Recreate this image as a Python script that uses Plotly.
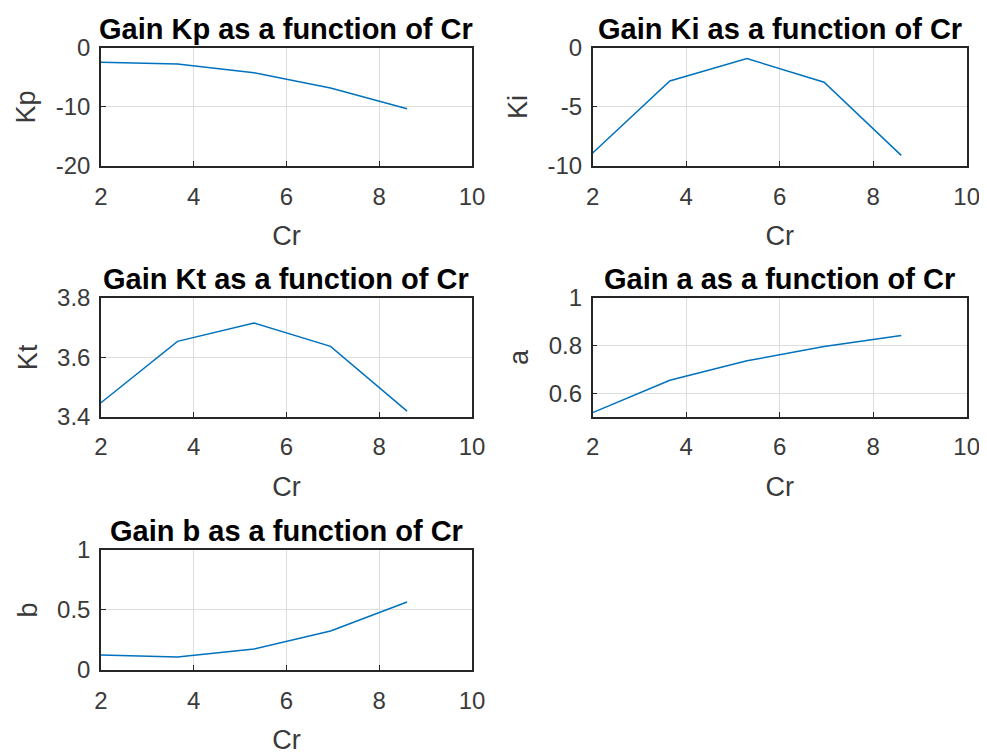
import plotly.graph_objs as go
from plotly.subplots import make_subplots

# data
cr = [2, 3.65, 5.3, 6.95, 8.6]
kp = [-2.4, -2.7, -4.2, -6.8, -10.3]
ki = [-8.9, -2.8, -0.9, -2.9, -9.1]
kt = [3.447, 3.654, 3.716, 3.637, 3.419]
a = [0.522, 0.657, 0.738, 0.798, 0.844]
b = [0.125, 0.108, 0.175, 0.325, 0.567]

# tick labels
x_ticks = [2, 4, 6, 8, 10]
kp_ticks = [-20, -10, 0]
ki_ticks = [-10, -5, 0]
kt_ticks = [3.4, 3.6, 3.8]
a_ticks = [0.6, 0.8, 1]
b_ticks = [0, 0.5, 1]

names = ["Kp", "Ki", "Kt", "a", "b"]
series = [kp, ki, kt, a, b]
y_ticks = [kp_ticks, ki_ticks, kt_ticks, a_ticks, b_ticks]
y_ranges = [[-20, 0], [-10, 0], [3.4, 3.8], [0.505, 1], [0, 1]]

FONT = "Arial, Liberation Sans, Helvetica, sans-serif"
AX_COLOR = "#262626"
LINE_COLOR = "#0072BD"

# plot area positions (paper fractions, page body margin of 8px accounted for)
x_doms = [[0.0942, 0.4701], [0.5924, 0.9713]]
y_doms = [[0.7902, 0.9469], [0.4572, 0.6149], [0.1209, 0.2802]]


def fmt(v):
    """"""

    return f"{v:g}"


def main():
    """"""

    fig = make_subplots(rows=3, cols=2)

    for i, (name, vals) in enumerate(zip(names, series)):
        row = i // 2 + 1
        col = i % 2 + 1
        fig.add_trace(
            go.Scatter(
                x=cr, y=vals, mode="lines",
                line=dict(color=LINE_COLOR, width=1.5),
                showlegend=False, name=name
            ),
            row=row, col=col
        )

        axis_common = dict(
            showline=True, mirror=True, linecolor=AX_COLOR, linewidth=1.5,
            ticks="inside", ticklen=5, tickcolor=AX_COLOR,
            showgrid=True, gridcolor="#dedede", gridwidth=1,
            zeroline=False, automargin=False,
            tickfont=dict(family=FONT, size=24, color="#3a3a3a"),
        )
        fig.update_xaxes(
            range=[2, 10],
            tickvals=x_ticks, ticktext=[fmt(v) for v in x_ticks],
            ticklabelstandoff=8,
            domain=x_doms[col - 1],
            title=dict(text="Cr", standoff=18,
                       font=dict(family=FONT, size=27, color="#3a3a3a")),
            row=row, col=col, **axis_common
        )
        fig.update_yaxes(
            range=y_ranges[i],
            tickvals=y_ticks[i], ticktext=[fmt(v) for v in y_ticks[i]],
            ticklabelstandoff=4,
            domain=y_doms[row - 1],
            title=dict(text=name, standoff=12,
                       font=dict(family=FONT, size=27, color="#3a3a3a")),
            row=row, col=col, **axis_common
        )

        xd = x_doms[col - 1]
        yd = y_doms[row - 1]
        fig.add_annotation(
            text=f"<b>Gain {name} as a function of Cr</b>",
            x=(xd[0] + xd[1]) / 2, y=yd[1],
            xref="paper", yref="paper",
            xanchor="center", yanchor="bottom", yshift=1,
            showarrow=False,
            font=dict(family=FONT, size=29, color="#000000"),
        )

    # empty slot bottom right
    fig.update_xaxes(visible=False, row=3, col=2)
    fig.update_yaxes(visible=False, row=3, col=2)

    fig.update_layout(
        width=987, height=753,
        margin=dict(l=0, r=0, t=0, b=0),
        paper_bgcolor="white", plot_bgcolor="white",
        font=dict(family=FONT),
    )

    fig.write_html("out.html")


if __name__ == "__main__":
    main()
